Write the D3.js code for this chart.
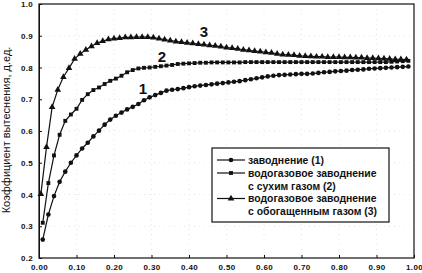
<!DOCTYPE html>
<html>
<head>
<meta charset="utf-8">
<script src="https://cdn.jsdelivr.net/npm/d3@7"></script>
<style>
  body { margin: 0; background: #fff; }
  svg { display: block; font-family: Arial, "Liberation Sans", sans-serif; }
</style>
</head>
<body>
<svg id="chart" width="422" height="273"></svg>
<script>
// saturation (x) for curves 1 and 2
const xSat = [0.01, 0.025, 0.04, 0.055, 0.07, 0.085, 0.10, 0.115, 0.13, 0.145, 0.16, 0.175, 0.19, 0.205, 0.22, 0.235, 0.25, 0.265, 0.28, 0.295,
  0.31, 0.325, 0.34, 0.355, 0.37, 0.385, 0.40, 0.415, 0.43, 0.445, 0.46, 0.475, 0.49, 0.505, 0.52, 0.535, 0.55, 0.565, 0.58, 0.595,
  0.61, 0.625, 0.64, 0.655, 0.67, 0.685, 0.70, 0.715, 0.73, 0.745, 0.76, 0.775, 0.79, 0.805, 0.82, 0.835, 0.85, 0.865, 0.88, 0.895,
  0.91, 0.925, 0.94, 0.955, 0.97, 0.985];
// saturation (x) for curve 3
const xSat3 = [0.005, 0.02, 0.035, 0.05, 0.065, 0.08, 0.095, 0.11, 0.125, 0.14, 0.155, 0.17, 0.185, 0.20, 0.215, 0.23, 0.245, 0.26, 0.275, 0.29,
  0.305, 0.32, 0.335, 0.35, 0.365, 0.38, 0.395, 0.41, 0.425, 0.44, 0.455, 0.47, 0.485, 0.50, 0.515, 0.53, 0.545, 0.56, 0.575, 0.59,
  0.605, 0.62, 0.635, 0.65, 0.665, 0.68, 0.695, 0.71, 0.725, 0.74, 0.755, 0.77, 0.785, 0.80, 0.815, 0.83, 0.845, 0.86, 0.875, 0.89,
  0.905, 0.92, 0.935, 0.95, 0.965, 0.98];

// (1) waterflooding
const water = [0.258, 0.337, 0.395, 0.44, 0.472, 0.50, 0.523, 0.545, 0.563, 0.583, 0.601, 0.62, 0.636, 0.648, 0.658, 0.668, 0.676, 0.685, 0.697, 0.706,
  0.713, 0.72, 0.727, 0.73, 0.732, 0.735, 0.738, 0.741, 0.743, 0.745, 0.747, 0.749, 0.751, 0.753, 0.755, 0.757, 0.76, 0.763, 0.766, 0.769,
  0.772, 0.774, 0.776, 0.777, 0.778, 0.779, 0.78, 0.78, 0.781, 0.783, 0.785, 0.786, 0.788, 0.789, 0.79, 0.792, 0.793, 0.794, 0.796, 0.797,
  0.798, 0.799, 0.80, 0.801, 0.802, 0.803];
// (2) WAG with dry gas
const dryGas = [0.311, 0.436, 0.523, 0.588, 0.632, 0.652, 0.67, 0.698, 0.716, 0.729, 0.737, 0.748, 0.758, 0.765, 0.774, 0.785, 0.792, 0.797, 0.799, 0.80,
  0.802, 0.804, 0.806, 0.808, 0.811, 0.812, 0.813, 0.814, 0.815, 0.815, 0.816, 0.816, 0.816, 0.816, 0.816, 0.816, 0.817, 0.817, 0.817, 0.817,
  0.817, 0.817, 0.817, 0.817, 0.817, 0.817, 0.817, 0.817, 0.817, 0.817, 0.817, 0.817, 0.817, 0.817, 0.817, 0.817, 0.817, 0.817, 0.817, 0.817,
  0.817, 0.817, 0.818, 0.819, 0.82, 0.821];
// (3) WAG with enriched gas
const richGas = [0.401, 0.549, 0.675, 0.73, 0.77, 0.798, 0.827, 0.843, 0.856, 0.867, 0.877, 0.883, 0.889, 0.891, 0.893, 0.895, 0.895, 0.896, 0.896, 0.896,
  0.894, 0.891, 0.888, 0.885, 0.882, 0.88, 0.878, 0.876, 0.874, 0.872, 0.87, 0.868, 0.866, 0.863, 0.861, 0.859, 0.856, 0.854, 0.852, 0.85,
  0.848, 0.846, 0.843, 0.841, 0.84, 0.839, 0.837, 0.836, 0.835, 0.834, 0.834, 0.833, 0.833, 0.833, 0.832, 0.832, 0.831, 0.831, 0.83, 0.83,
  0.829, 0.828, 0.827, 0.826, 0.826, 0.825];

const xTicks = [0, 0.1, 0.2, 0.3, 0.4, 0.5, 0.6, 0.7, 0.8, 0.9, 1.0];
const yTicks = [0.2, 0.3, 0.4, 0.5, 0.6, 0.7, 0.8, 0.9, 1.0];
const legendLines = [
  ['заводнение (1)'],
  ['водогазовое заводнение', 'с сухим газом (2)'],
  ['водогазовое заводнение', 'с обогащенным газом (3)']
];
const curveLabels = [
  { text: '1', x: 0.277, y: 0.717 },
  { text: '2', x: 0.328, y: 0.818 },
  { text: '3', x: 0.44, y: 0.897 }
];

const margin = { top: 4, right: 8, bottom: 15, left: 39 };
const width = 422, height = 273;
const svg = d3.select('#chart');

const x = d3.scaleLinear().domain([0, 1]).range([margin.left, width - margin.right]);
const y = d3.scaleLinear().domain([0.2, 1.0]).range([height - margin.bottom, margin.top]);

// faint dotted grid
svg.append('g').selectAll('line.gx')
  .data(xTicks.slice(1, -1)).enter().append('line')
  .attr('x1', d => x(d)).attr('x2', d => x(d))
  .attr('y1', y(1)).attr('y2', y(0.2))
  .attr('stroke', '#e6e6e6').attr('stroke-dasharray', '1,4');
svg.append('g').selectAll('line.gy')
  .data(yTicks.slice(1, -1)).enter().append('line')
  .attr('y1', d => y(d)).attr('y2', d => y(d))
  .attr('x1', x(0)).attr('x2', x(1))
  .attr('stroke', '#e6e6e6').attr('stroke-dasharray', '1,4');

// axes, ticks pointing inward
const xAxis = svg.append('g')
  .attr('transform', 'translate(0,' + y(0.2) + ')')
  .call(d3.axisBottom(x).tickValues(xTicks).tickFormat(d3.format('.2f')).tickSizeInner(-3).tickSizeOuter(0).tickPadding(6));
const yAxis = svg.append('g')
  .attr('transform', 'translate(' + x(0) + ',0)')
  .call(d3.axisLeft(y).tickValues(yTicks).tickFormat(d3.format('.1f')).tickSizeInner(-3).tickSizeOuter(0).tickPadding(6));
[xAxis, yAxis].forEach(g => {
  g.selectAll('path, line').attr('stroke', '#111');
  g.selectAll('text').attr('fill', '#111').style('font-size', '8px').style('font-weight', 'bold').style('letter-spacing', '0.3px');
});
xAxis.select('.domain').remove();

// frame
svg.append('rect')
  .attr('x', x(0)).attr('y', y(1))
  .attr('width', x(1) - x(0)).attr('height', y(0.2) - y(1))
  .attr('fill', 'none').attr('stroke', '#111').attr('stroke-width', 1.2);

// y title
svg.append('text')
  .attr('transform', 'translate(10,' + (y(0.6) - 1) + ') rotate(-90)')
  .attr('text-anchor', 'middle')
  .style('font-size', '11px')
  .attr('fill', '#111')
  .text('Коэффициент вытеснения, д.ед.');

const series = [
  { xs: xSat, ys: water, marker: 'circle' },
  { xs: xSat, ys: dryGas, marker: 'square' },
  { xs: xSat3, ys: richGas, marker: 'triangle' }
];
const symbolOf = {
  circle: d3.symbol().type(d3.symbolCircle).size(17),
  square: d3.symbol().type(d3.symbolSquare).size(15),
  triangle: d3.symbol().type(d3.symbolTriangle).size(19)
};

const line = d3.line().x(d => x(d[0])).y(d => y(d[1]));
series.forEach(s => {
  const pts = s.xs.map((v, i) => [v, s.ys[i]]);
  svg.append('path')
    .attr('d', line(pts))
    .attr('fill', 'none').attr('stroke', '#111').attr('stroke-width', 1.2);
  svg.append('g').selectAll('path')
    .data(pts).enter().append('path')
    .attr('transform', d => 'translate(' + x(d[0]) + ',' + y(d[1]) + ')')
    .attr('d', symbolOf[s.marker]())
    .attr('fill', '#111');
});

// curve numbers
svg.selectAll('text.num')
  .data(curveLabels).enter().append('text')
  .attr('x', d => x(d.x)).attr('y', d => y(d.y))
  .attr('text-anchor', 'middle')
  .style('font-size', '15px').style('font-weight', 'bold')
  .attr('fill', '#111')
  .text(d => d.text);

// legend
const lg = svg.append('g');
lg.append('rect')
  .attr('x', 212).attr('y', 148).attr('width', 177).attr('height', 74)
  .attr('fill', '#fff').attr('stroke', '#111').attr('stroke-width', 1.2);
const rowY = [160, 173, 198.5];
legendLines.forEach((lines, i) => {
  lg.append('line')
    .attr('x1', 217).attr('x2', 245).attr('y1', rowY[i]).attr('y2', rowY[i])
    .attr('stroke', '#111').attr('stroke-width', 1.2);
  lg.append('path')
    .attr('transform', 'translate(231,' + rowY[i] + ')')
    .attr('d', symbolOf[series[i].marker]())
    .attr('fill', '#111');
  lines.forEach((t, j) => {
    lg.append('text')
      .attr('x', 248).attr('y', rowY[i] + 3.5 + j * 13)
      .style('font-size', '10.4px').style('font-weight', 'bold')
      .attr('fill', '#111')
      .text(t);
  });
});
</script>
</body>
</html>
